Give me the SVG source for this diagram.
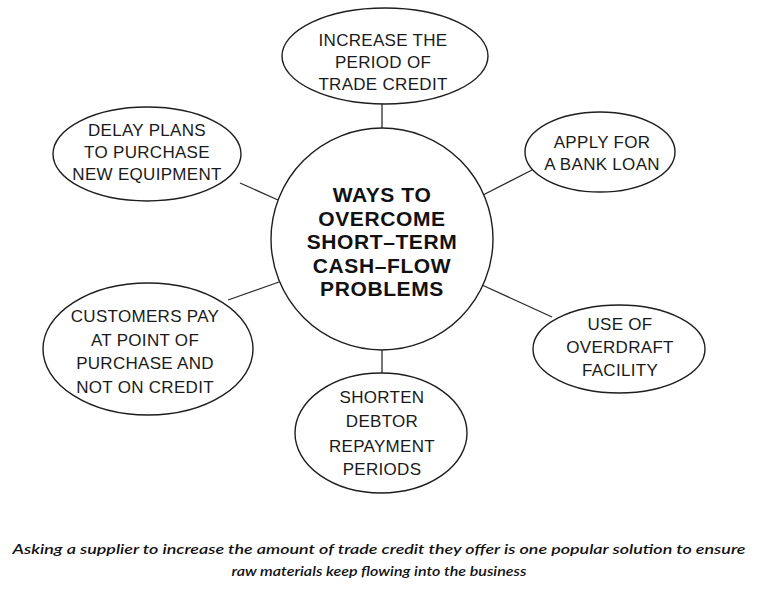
<svg xmlns="http://www.w3.org/2000/svg" width="759" height="590" viewBox="0 0 759 590">
<style>
.bg{fill:#ffffff}
.shape{fill:#ffffff;stroke:#1e1e1e;stroke-width:1.4}
.conn line{stroke:#2a2a2a;stroke-width:1.3}
.t{font-family:"Liberation Sans",Arial,sans-serif;font-size:17px;fill:#1a1a1a;text-anchor:middle;letter-spacing:0.3px}
.c{font-family:"Liberation Sans",Arial,sans-serif;font-size:21px;font-weight:bold;fill:#111;text-anchor:middle;letter-spacing:0.6px}
.cap{font-family:Lato,"Open Sans",sans-serif;font-size:14px;font-style:italic;font-weight:600;fill:#111;text-anchor:middle}
</style>
<rect class="bg" x="0" y="0" width="759" height="590"/>
<g id="connectors" class="conn">
<line x1="382" y1="104" x2="382" y2="128"/>
<line x1="240" y1="183" x2="278" y2="200"/>
<line x1="532" y1="170" x2="483" y2="195"/>
<line x1="228" y1="300" x2="279" y2="282"/>
<line x1="482" y1="285" x2="552" y2="317"/>
<line x1="382" y1="350" x2="382" y2="373"/>
</g>
<g id="center">
<circle class="shape" cx="382" cy="239" r="111"/>
<text class="c" x="382" y="202">WAYS TO</text>
<text class="c" x="382" y="225.5">OVERCOME</text>
<text class="c" x="382" y="249">SHORT–TERM</text>
<text class="c" x="382" y="272.5">CASH–FLOW</text>
<text class="c" x="382" y="296">PROBLEMS</text>
</g>
<g id="node-trade-credit">
<ellipse class="shape" cx="385" cy="56" rx="103" ry="48"/>
<text class="t" x="383" y="46">INCREASE THE</text>
<text class="t" x="383" y="68">PERIOD OF</text>
<text class="t" x="383" y="90">TRADE CREDIT</text>
</g>
<g id="node-delay">
<ellipse class="shape" cx="147" cy="154" rx="94" ry="47"/>
<text class="t" x="147" y="136">DELAY PLANS</text>
<text class="t" x="147" y="158">TO PURCHASE</text>
<text class="t" x="147" y="180">NEW EQUIPMENT</text>
</g>
<g id="node-bank-loan">
<ellipse class="shape" cx="600" cy="152" rx="75" ry="40"/>
<text class="t" x="602" y="148">APPLY FOR</text>
<text class="t" x="602" y="170">A BANK LOAN</text>
</g>
<g id="node-customers">
<ellipse class="shape" cx="148" cy="349" rx="105" ry="66"/>
<text class="t" x="145" y="322">CUSTOMERS PAY</text>
<text class="t" x="145" y="346">AT POINT OF</text>
<text class="t" x="145" y="369">PURCHASE AND</text>
<text class="t" x="145" y="393">NOT ON CREDIT</text>
</g>
<g id="node-overdraft">
<ellipse class="shape" cx="619" cy="349" rx="86" ry="44"/>
<text class="t" x="620" y="330">USE OF</text>
<text class="t" x="620" y="353">OVERDRAFT</text>
<text class="t" x="620" y="376">FACILITY</text>
</g>
<g id="node-shorten">
<ellipse class="shape" cx="381" cy="433" rx="86" ry="60"/>
<text class="t" x="382" y="403">SHORTEN</text>
<text class="t" x="382" y="427">DEBTOR</text>
<text class="t" x="382" y="452">REPAYMENT</text>
<text class="t" x="382" y="475">PERIODS</text>
</g>
<g id="caption">
<text class="cap" x="379" y="554" textLength="733" lengthAdjust="spacingAndGlyphs">Asking a supplier to increase the amount of trade credit they offer is one popular solution to ensure</text>
<text class="cap" x="379" y="576" textLength="295" lengthAdjust="spacingAndGlyphs">raw materials keep flowing into the business</text>
</g>
</svg>
